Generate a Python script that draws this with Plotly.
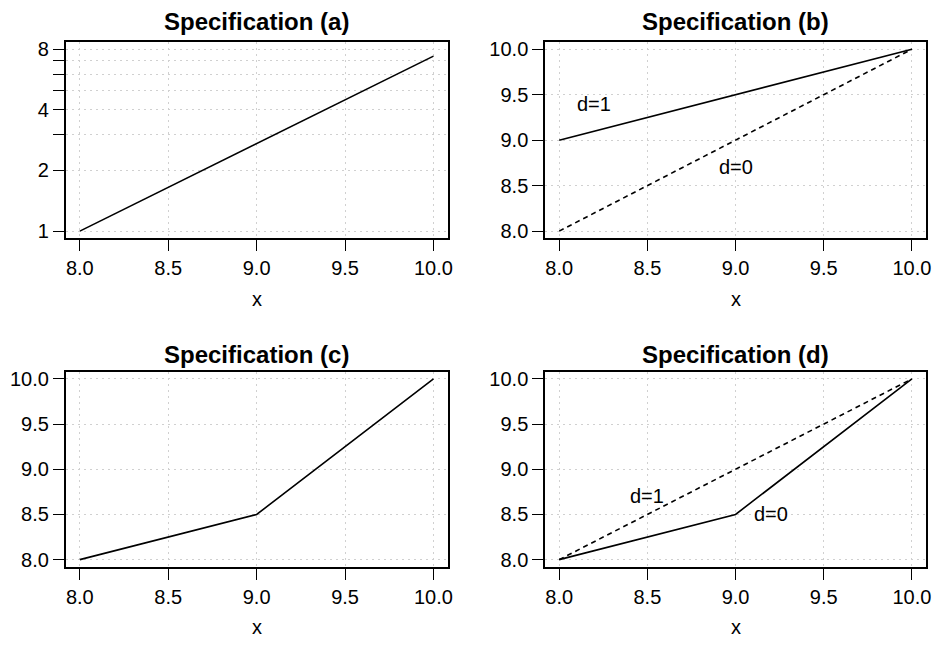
import plotly.graph_objects as go
import math

# ---- data ----
x_a = [8.0, 8.5, 9.0, 9.5, 10.0]
y_a = [1.0, 1.6487, 2.7183, 4.4817, 7.3891]  # exponential curve (straight on log axis)

x_b = [8.0, 10.0]
y_b_d1 = [9.0, 10.0]
y_b_d0 = [8.0, 10.0]

x_c = [8.0, 9.0, 10.0]
y_c = [8.0, 8.5, 10.0]

x_d = [8.0, 9.0, 10.0]
y_d_d1 = [8.0, 9.0, 10.0]
y_d_d0 = [8.0, 8.5, 10.0]

x_ticks = [8.0, 8.5, 9.0, 9.5, 10.0]
x_ticktext = ["8.0", "8.5", "9.0", "9.5", "10.0"]
y_ticks = [8.0, 8.5, 9.0, 9.5, 10.0]
y_ticktext = ["8.0", "8.5", "9.0", "9.5", "10.0"]
ya_ticks = [1, 2, 3, 4, 5, 6, 7, 8]
ya_ticktext = ["1", "2", "", "4", "", "", "", "8"]

titles = ["Specification (a)", "Specification (b)", "Specification (c)", "Specification (d)"]
labels_b = [("d=1", 8.2, 9.4), ("d=0", 9.0, 8.7)]
labels_d = [("d=1", 8.5, 8.7), ("d=0", 9.2, 8.5)]

# page has an 8px body margin; compensate
OFF = 8
W, H = 941 - 2 * OFF, 646 - 2 * OFF
FONT = "Liberation Sans, Arial, Helvetica, sans-serif"
TICKSIZE = 20

def px(rx):
    return (rx - OFF) / W

def py(ry):
    return 1 - (ry - OFF) / H

fig = go.Figure()

line_solid = dict(color="black", width=1.6)
line_dash = dict(color="black", width=1.6, dash="5px,4px")

fig.add_trace(go.Scatter(x=x_a, y=y_a, mode="lines", line=line_solid, xaxis="x", yaxis="y"))
fig.add_trace(go.Scatter(x=x_b, y=y_b_d1, mode="lines", line=line_solid, xaxis="x2", yaxis="y2"))
fig.add_trace(go.Scatter(x=x_b, y=y_b_d0, mode="lines", line=line_dash, xaxis="x2", yaxis="y2"))
fig.add_trace(go.Scatter(x=x_c, y=y_c, mode="lines", line=line_solid, xaxis="x3", yaxis="y3"))
fig.add_trace(go.Scatter(x=x_d, y=y_d_d1, mode="lines", line=line_dash, xaxis="x4", yaxis="y4"))
fig.add_trace(go.Scatter(x=x_d, y=y_d_d0, mode="lines", line=line_solid, xaxis="x4", yaxis="y4"))

# pixel boxes in the reference
left_x = (66, 450)
right_x = (548, 931)
top_y = (38.3, 237.3)
bot_y = (372.3, 570)

def xd(p):
    return [px(p[0]), px(p[1])]

def yd(p):
    return [py(p[1]), py(p[0])]

def rng(lo, hi):
    d = (hi - lo) * 0.04
    return [lo - d, hi + d]

common = dict(
    showline=True, linecolor="black", linewidth=1.6, mirror=True,
    ticks="outside", ticklen=11, tickwidth=1.3, tickcolor="black",
    showgrid=True, gridcolor="#d0d0d0", gridwidth=1, griddash="2px,4px",
    zeroline=False, tickfont=dict(family=FONT, size=TICKSIZE, color="black"),
    fixedrange=True,
)

def xaxis(dom, anchor):
    return dict(common, domain=xd(dom), anchor=anchor, range=rng(8, 10),
                tickmode="array", tickvals=x_ticks, ticktext=x_ticktext)

def yaxis(dom, anchor):
    return dict(common, domain=yd(dom), anchor=anchor, range=rng(8, 10),
                tickmode="array", tickvals=y_ticks, ticktext=y_ticktext)

ya = dict(common, domain=yd(top_y), anchor="x", type="log",
          range=rng(math.log10(1), math.log10(8)),
          tickmode="array", tickvals=ya_ticks, ticktext=ya_ticktext)

fig.update_layout(
    width=W, height=H,
    margin=dict(l=0, r=0, t=0, b=0),
    paper_bgcolor="white", plot_bgcolor="white",
    showlegend=False,
    font=dict(family=FONT, color="black"),
    xaxis=xaxis(left_x, "y"), yaxis=ya,
    xaxis2=xaxis(right_x, "y2"), yaxis2=yaxis(top_y, "x2"),
    xaxis3=xaxis(left_x, "y3"), yaxis3=yaxis(bot_y, "x3"),
    xaxis4=xaxis(right_x, "y4"), yaxis4=yaxis(bot_y, "x4"),
)

ann = []
cl = (left_x[0] + left_x[1]) / 2
cr = (right_x[0] + right_x[1]) / 2
title_pos = [(cl, 18), (cr, 18), (cl, 355), (cr, 355)]
for t, (rx, ry) in zip(titles, title_pos):
    ann.append(dict(text="<b>%s</b>" % t, x=px(rx), y=py(ry), xref="paper", yref="paper",
                    showarrow=False, xanchor="center", yanchor="middle",
                    font=dict(family=FONT, size=24, color="black")))

xlab_pos = [(cl, 299), (cr, 299), (cl, 631), (cr, 631)]
for rx, ry in xlab_pos:
    ann.append(dict(text="x", x=px(rx), y=py(ry), xref="paper", yref="paper",
                    showarrow=False, xanchor="center", yanchor="middle",
                    font=dict(family=FONT, size=TICKSIZE, color="black")))

for txt, lx, ly in labels_b:
    ann.append(dict(text=txt, x=lx, y=ly, xref="x2", yref="y2", showarrow=False,
                    xanchor="center", yanchor="middle",
                    font=dict(family=FONT, size=TICKSIZE, color="black")))
for txt, lx, ly in labels_d:
    ann.append(dict(text=txt, x=lx, y=ly, xref="x4", yref="y4", showarrow=False,
                    xanchor="center", yanchor="middle",
                    font=dict(family=FONT, size=TICKSIZE, color="black")))

fig.update_layout(annotations=ann)

fig.write_html("out.html")
